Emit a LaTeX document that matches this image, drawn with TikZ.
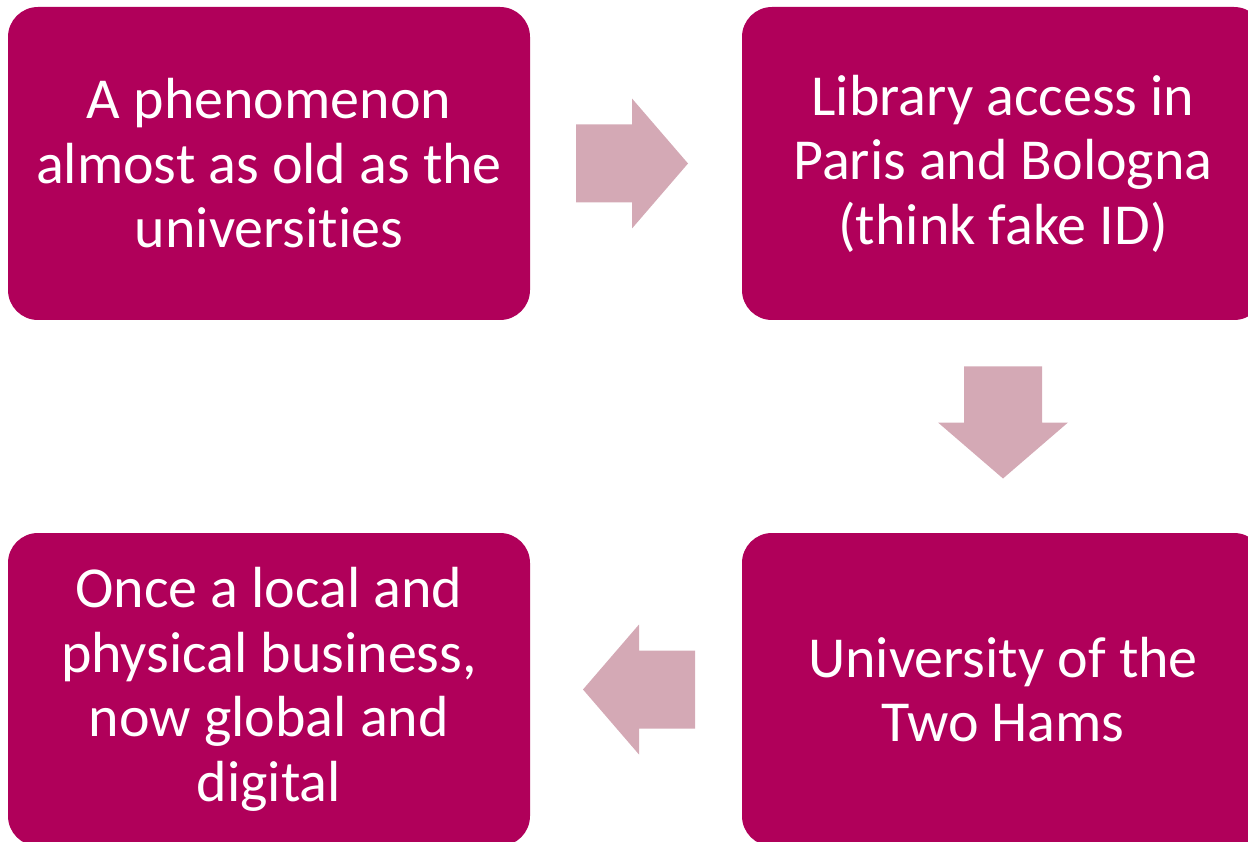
\documentclass[tikz,border=0pt]{standalone}
\usepackage{fontspec}
\setmainfont[Ligatures={NoCommon}]{Carlito}
\usetikzlibrary{calc}
\definecolor{stagefill}{RGB}{176,0,90}
\definecolor{flowfill}{RGB}{212,169,181}
\tikzset{
    stage/.style={fill=stagefill, text=white, rounded corners=30pt,
        minimum width=522pt, minimum height=313pt, inner sep=0pt,
        align=center, font=\fontsize{58}{64.5}\selectfont},
    flowarrow/.pic={
        \fill[flowfill] (-56,-39) -- (0,-39) -- (0,-65) -- (56,0)
            -- (0,65) -- (0,39) -- (-56,39) -- cycle;
    }
}
\begin{document}
\begin{tikzpicture}[x=1pt, y=1pt]
    \useasboundingbox (0,0) rectangle (1248,-842);
    \clip (0,0) rectangle (1248,-842);
    \node[stage] (s0) at (269,-163.5) {A phenomenon\\almost as old as the\\universities};
    \node[stage] (s1) at (1003,-163.5) {Library access in\\Paris and Bologna\\(think fake ID)};
    \node[stage] (s2) at (1003,-689.5) {University of the\\Two Hams};
    \node[stage] (s3) at (269,-689.5) {Once a local and\\physical business,\\now global and\\digital};
    \path ($(s0.east)!0.5!(s1.west)+(-4,0)$) pic {flowarrow};
    \path ($(s1.south)!0.5!(s2.north)+(0,4)$) pic[rotate=-90] {flowarrow};
    \path ($(s2.west)!0.5!(s3.east)+(3,0)$) pic[rotate=180] {flowarrow};
\end{tikzpicture}
\end{document}
